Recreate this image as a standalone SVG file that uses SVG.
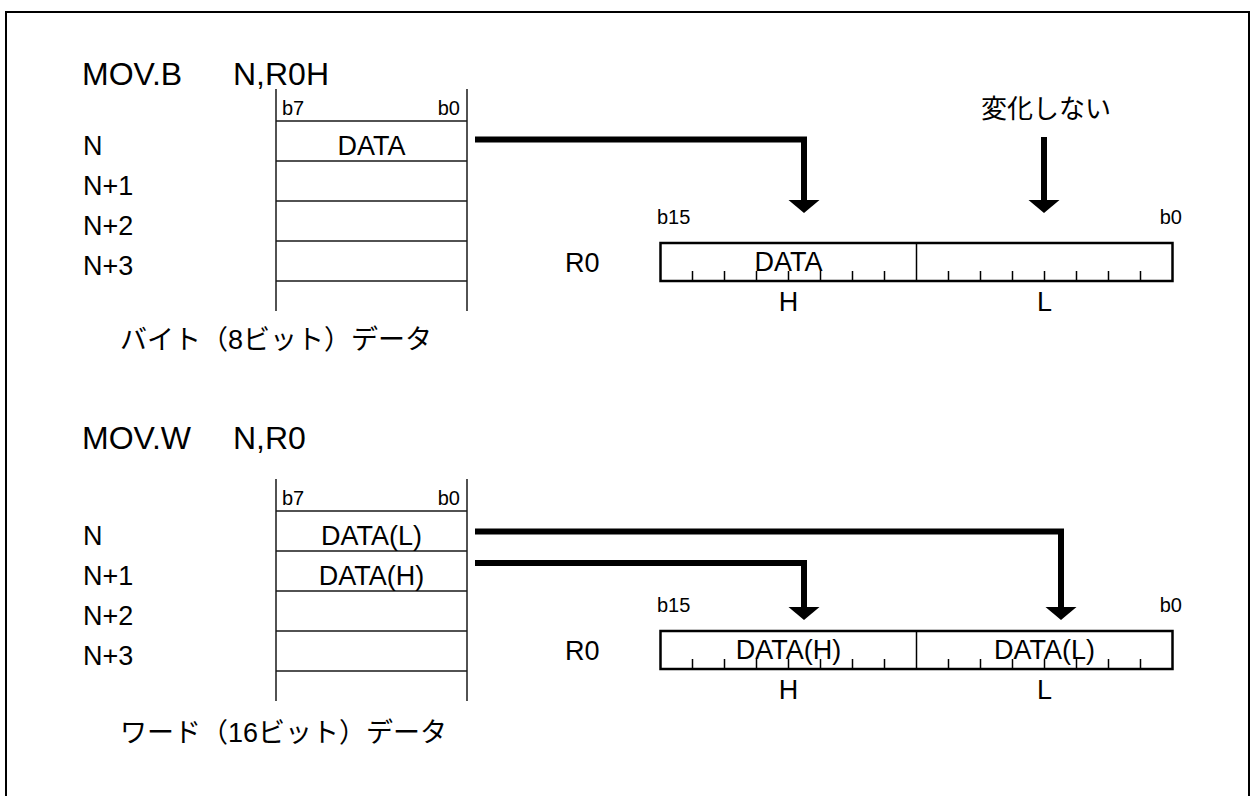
<svg xmlns="http://www.w3.org/2000/svg" width="1251" height="796" viewBox="0 0 1251 796">
<style>
.t{font-family:"Liberation Sans",Arial,sans-serif;fill:#000}
.big{font-size:32px}
.md{font-size:27px}
.sm{font-size:20px}
.jp{font-family:"Liberation Sans","Noto Sans CJK JP",sans-serif;font-size:27px;fill:#000}
.tbl{stroke:#1a1a1a;stroke-width:1.5;fill:none}
.reg{stroke:#000;stroke-width:2.5;fill:#fff}
.tick{stroke:#000;stroke-width:1.5}
.arr{stroke:#000;stroke-width:6;fill:none;stroke-linejoin:miter}
</style>
<defs>
<marker id="ah" markerUnits="userSpaceOnUse" markerWidth="14" markerHeight="32" viewBox="0 -16 14 32" refX="0" refY="0" orient="auto">
<path d="M0,-15.5 L13,0 L0,15.5 Z" fill="#000"/>
</marker>
<g id="ticks">
<path class="tick" d="M692.5,271V281M724.5,271V281M756.5,271V281M788.5,271V281M820.5,271V281M852.5,271V281M884.5,271V281M948.5,271V281M980.5,271V281M1012.5,271V281M1044.5,271V281M1076.5,271V281M1108.5,271V281M1140.5,271V281"/>
</g>
</defs>
<rect x="6" y="12" width="1243" height="820" fill="none" stroke="#000" stroke-width="2"/>

<g id="section-byte">
<text class="t big" x="82" y="85">MOV.B</text>
<text class="t big" x="233" y="85">N,R0H</text>
</g>

<g id="mem-byte">
<path class="tbl" d="M276,89V311M467,89V311M276,121H467M276,161H467M276,201H467M276,241H467M276,281H467"/>
<text class="t sm" x="282" y="115">b7</text>
<text class="t sm" x="460" y="115" text-anchor="end">b0</text>
<text class="t md" x="371.5" y="155" text-anchor="middle">DATA</text>
<text class="t md" x="83" y="155">N</text>
<text class="t md" x="83" y="195">N+1</text>
<text class="t md" x="83" y="235">N+2</text>
<text class="t md" x="83" y="275">N+3</text>
<text class="jp" x="120" y="349">バイト（8ビット）データ</text>
</g>

<g id="reg-byte">
<rect class="reg" x="660.5" y="243" width="512" height="38"/>
<path class="tick" d="M916.5,243V281"/>
<use href="#ticks"/>
<text class="t md" x="565" y="272">R0</text>
<text class="t sm" x="657" y="224">b15</text>
<text class="t sm" x="1182" y="224" text-anchor="end">b0</text>
<text class="t md" x="788.5" y="271" text-anchor="middle">DATA</text>
<text class="t md" x="788.5" y="311" text-anchor="middle">H</text>
<text class="t md" x="1044.5" y="311" text-anchor="middle">L</text>
</g>

<g id="note-unchanged">
<text class="jp" style="font-size:26px" x="1046" y="118" text-anchor="middle">変化しない</text>
</g>

<g id="section-word">
<text class="t big" x="82" y="449">MOV.W</text>
<text class="t big" x="233" y="449">N,R0</text>
</g>

<g id="mem-word">
<path class="tbl" d="M276,479V701M467,479V701M276,511H467M276,551H467M276,591H467M276,631H467M276,671H467"/>
<text class="t sm" x="282" y="505">b7</text>
<text class="t sm" x="460" y="505" text-anchor="end">b0</text>
<text class="t md" x="371.5" y="545" text-anchor="middle">DATA(L)</text>
<text class="t md" x="371.5" y="585" text-anchor="middle">DATA(H)</text>
<text class="t md" x="83" y="545">N</text>
<text class="t md" x="83" y="585">N+1</text>
<text class="t md" x="83" y="625">N+2</text>
<text class="t md" x="83" y="665">N+3</text>
<text class="jp" x="120" y="742">ワード（16ビット）データ</text>
</g>

<g id="reg-word">
<rect class="reg" x="660.5" y="631" width="512" height="38"/>
<path class="tick" d="M916.5,631V669"/>
<use href="#ticks" transform="translate(0,388)"/>
<text class="t md" x="565" y="660">R0</text>
<text class="t sm" x="657" y="612">b15</text>
<text class="t sm" x="1182" y="612" text-anchor="end">b0</text>
<text class="t md" x="788.5" y="659" text-anchor="middle">DATA(H)</text>
<text class="t md" x="1044.5" y="659" text-anchor="middle">DATA(L)</text>
<text class="t md" x="788.5" y="699" text-anchor="middle">H</text>
<text class="t md" x="1044.5" y="699" text-anchor="middle">L</text>
</g>

<g id="connectors">
<path class="arr" d="M475,139.5H804V200" marker-end="url(#ah)"/>
<path class="arr" d="M1044,137V200" marker-end="url(#ah)"/>
<path class="arr" d="M475,531.5H1061V607" marker-end="url(#ah)"/>
<path class="arr" d="M475,563H804V607" marker-end="url(#ah)"/>
</g>
</svg>
